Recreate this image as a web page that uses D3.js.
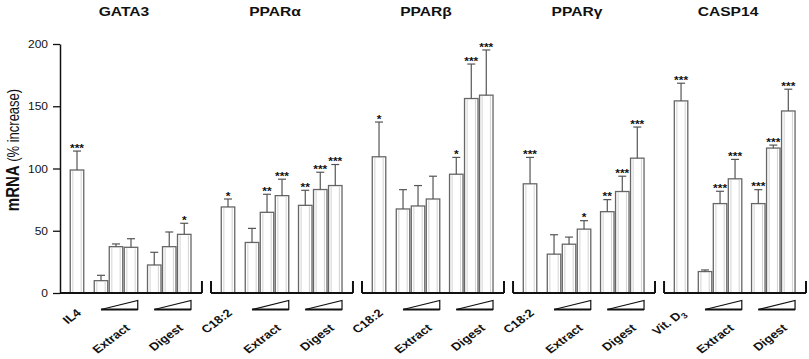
<!DOCTYPE html>
<html><head><meta charset="utf-8">
<script src="https://cdn.jsdelivr.net/npm/d3@7"></script>
<style>
body{margin:0;background:#fff}
svg{display:block}
text{font-family:Arial,"Liberation Sans",sans-serif;fill:#111}
</style></head>
<body><svg id="c" width="809" height="359"></svg>
<script>
// ---- data ----
const genes = ["GATA3", "PPARα", "PPARβ", "PPARγ", "CASP14"];
const controls = ["IL4", "C18:2", "C18:2", "C18:2", "Vit. D"];
const controlSub = ["", "", "", "", "3"];
const groups = ["Extract", "Digest"];
const yTicks = [0, 50, 100, 150, 200];

const controlValues = [98.8, 69.1, 109.4, 87.7, 154.3];
const controlErr    = [15.2, 6.4, 27.9, 21.2, 14.2];
const controlSig    = ["***", "*", "*", "***", "***"];

const extractValues = [[9.9, 37.2, 36.7], [40.6, 64.8, 78.2], [67.5, 69.9, 75.5], [31.2, 39.2, 51.3], [17.2, 71.8, 91.7]];
const extractErr    = [[4.3, 2.2, 6.9], [11.3, 14.5, 13.2], [15.5, 16.4, 18.3], [15.6, 5.7, 6.8], [1.3, 9.9, 15.6]];
const extractSig    = [["", "", ""], ["", "**", "***"], ["", "", ""], ["", "", "*"], ["", "***", "***"]];

const digestValues = [[22.5, 37.2, 47.1], [70.4, 83.1, 86.3], [95.4, 156.2, 158.9], [65.3, 81.5, 108.3], [71.8, 116.4, 146.2]];
const digestErr    = [[10.2, 11.8, 8.9], [12.1, 13.9, 16.9], [13.5, 27.7, 36.3], [9.7, 12.3, 25.0], [11.2, 2.4, 17.5]];
const digestSig    = [["", "", "*"], ["**", "***", "***"], ["*", "***", "***"], ["**", "***", "***"], ["***", "***", "***"]];

// ---- layout ----
const SX = 1.2; // horizontal text stretch of the original
const svg = d3.select("#c");
const y = d3.scaleLinear().domain([0, 200]).range([293, 44]);
const panel = d3.scaleBand().domain(genes).range([60, 806]).paddingInner(0.06);
const slotPos = [0, 1.6, 2.6, 3.6, 5.15, 6.15, 7.15];
const slot = d3.scaleLinear().domain([0, 1]).range([17, 32]);
const bw = 13.5;

// y axis
const ax = svg.append("g").attr("transform", "translate(60,0)")
  .call(d3.axisLeft(y).tickValues(yTicks).tickSize(7).tickSizeOuter(0).tickFormat(d3.format("d")));
ax.select(".domain").attr("stroke", "#111").attr("stroke-width", 1.5);
ax.selectAll(".tick line").attr("stroke", "#111").attr("stroke-width", 1.3);
ax.selectAll(".tick text").attr("x", null).attr("dy", "0.35em")
  .attr("transform", "translate(-12,0) scale(" + SX + ",1)")
  .attr("font-size", 10).attr("font-family", "Arial, 'Liberation Sans', sans-serif").attr("fill", "#111");

// y label
const yl = svg.append("text").attr("text-anchor", "middle")
  .attr("transform", "translate(18.5,150) scale(" + SX + ",1) rotate(-90)");
yl.append("tspan").attr("font-weight", "bold").attr("font-size", 15).text("mRNA");
yl.append("tspan").attr("font-size", 13).text(" (% increase)");

genes.forEach((g, gi) => {
  const x0 = panel(g), x1 = x0 + panel.bandwidth();
  const G = svg.append("g");
  // title
  G.append("text").attr("text-anchor", "middle").attr("font-weight", "bold").attr("font-size", 13)
    .attr("transform", "translate(" + (x0 + panel.bandwidth() / 2 - 7) + ",16) scale(" + SX + ",1)")
    .text(g);

  const bars = [{v: controlValues[gi], e: controlErr[gi], s: controlSig[gi]}]
    .concat(extractValues[gi].map((v, i) => ({v, e: extractErr[gi][i], s: extractSig[gi][i]})))
    .concat(digestValues[gi].map((v, i) => ({v, e: digestErr[gi][i], s: digestSig[gi][i]})));
  bars.forEach((b, i) => { b.cx = x0 + slot(slotPos[i]); });

  const bg = G.selectAll("g.bar").data(bars).join("g").attr("class", "bar");
  bg.append("rect").attr("x", d => d.cx - bw / 2).attr("y", d => y(d.v))
    .attr("width", bw).attr("height", d => y(0) - y(d.v))
    .attr("fill", "#fff").attr("stroke", "#666").attr("stroke-width", 1.3);
  bg.append("line").attr("x1", d => d.cx - bw / 2 + 2.6).attr("x2", d => d.cx - bw / 2 + 2.6)
    .attr("y1", d => y(d.v) + 1).attr("y2", y(0)).attr("stroke", "#c8c8c8").attr("stroke-width", 0.8);
  bg.append("line").attr("x1", d => d.cx + bw / 2 - 2.6).attr("x2", d => d.cx + bw / 2 - 2.6)
    .attr("y1", d => y(d.v) + 1).attr("y2", y(0)).attr("stroke", "#c8c8c8").attr("stroke-width", 0.8);
  // error bars
  bg.append("line").attr("x1", d => d.cx).attr("x2", d => d.cx)
    .attr("y1", d => y(d.v)).attr("y2", d => y(d.v + d.e)).attr("stroke", "#555").attr("stroke-width", 1.2);
  bg.append("line").attr("x1", d => d.cx - 4).attr("x2", d => d.cx + 4)
    .attr("y1", d => y(d.v + d.e)).attr("y2", d => y(d.v + d.e)).attr("stroke", "#555").attr("stroke-width", 1.2);
  // stars
  bg.filter(d => d.s).append("text").attr("text-anchor", "middle").attr("font-size", 10).attr("font-weight", "bold")
    .attr("fill", "#333")
    .attr("transform", d => "translate(" + d.cx + "," + (y(d.v + d.e) + 0.8) + ") scale(" + SX + ",1)")
    .text(d => d.s);

  // baseline + end ticks
  G.append("line").attr("x1", x0).attr("x2", x1).attr("y1", y(0)).attr("y2", y(0))
    .attr("stroke", "#111").attr("stroke-width", 2);
  if (gi > 0) G.append("line").attr("x1", x0).attr("x2", x0).attr("y1", y(0)).attr("y2", y(0) - 12)
    .attr("stroke", "#111").attr("stroke-width", 2);
  G.append("line").attr("x1", x1).attr("x2", x1).attr("y1", y(0)).attr("y2", y(0) - 12)
    .attr("stroke", "#111").attr("stroke-width", 2);

  // control label (rotated)
  const cl = G.append("text").attr("text-anchor", "end").attr("font-weight", "bold").attr("font-size", 11)
    .attr("transform", "translate(" + (bars[0].cx + 5) + ",314) scale(" + SX + ",1) rotate(-42)");
  cl.append("tspan").text(controls[gi]);
  if (controlSub[gi]) cl.append("tspan").attr("font-size", 8).attr("dy", 3).text(controlSub[gi]);

  // wedges + group labels
  groups.forEach((grp, k) => {
    const a = bars[1 + k * 3].cx, bEnd = bars[3 + k * 3].cx + bw / 2;
    G.append("path").attr("d", "M" + a + ",309.5L" + bEnd + ",309.5L" + bEnd + ",300.5Z")
      .attr("fill", "#fff").attr("stroke", "#111").attr("stroke-width", 1.2);
    G.append("line").attr("x1", a).attr("x2", bEnd).attr("y1", 309.5).attr("y2", 309.5)
      .attr("stroke", "#111").attr("stroke-width", 2);
    G.append("text").attr("text-anchor", "end").attr("font-weight", "bold").attr("font-size", 11)
      .attr("transform", "translate(" + (bEnd - 7) + ",329) scale(" + SX + ",1) rotate(-42)")
      .text(grp);
  });
});
</script>
</body></html>
